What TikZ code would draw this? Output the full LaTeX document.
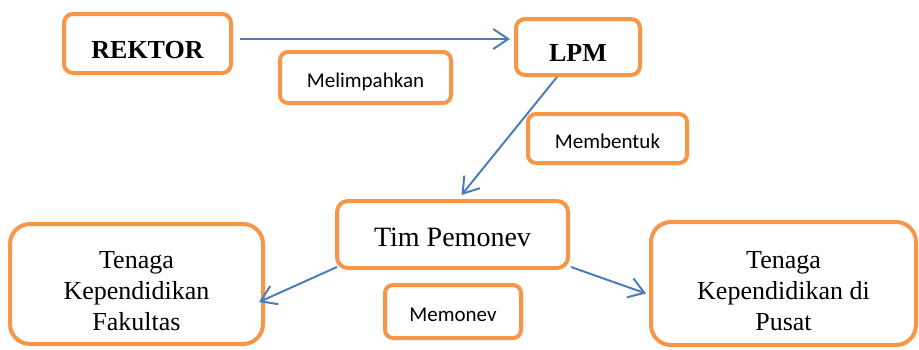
\documentclass[tikz,border=0pt]{standalone}
\usepackage{fontspec}
\setmainfont{Liberation Serif}
\newfontfamily\lblfont{Carlito}
\usetikzlibrary{arrows.meta,positioning}
\definecolor{boxorange}{HTML}{F79646}
\definecolor{arrowblue}{HTML}{4A7EBB}
\begin{document}
\begin{tikzpicture}[x=1pt,y=-1pt,
    box/.style={draw=boxorange, line width=4pt, rounded corners=9pt, fill=white, align=center},
    bigbox/.style={box, rounded corners=20pt, font=\fontsize{26}{31}\selectfont, text height=93pt, text depth=0pt},
    head/.style={box, font=\fontsize{26}{31}\selectfont\bfseries, text height=29pt, text depth=0pt},
    lbl/.style={box, rounded corners=8pt, font=\lblfont\fontsize{21}{25}\selectfont, text height=20pt, text depth=0pt},
    link/.style={draw=arrowblue, line width=2pt, -{Straight Barb[length=15pt,width=20pt]}}]
    \useasboundingbox (0,0) rectangle (919,349);
    \node[head, minimum width=167pt, minimum height=59pt] (REKTOR) at (147.5,43.5) {REKTOR};
    \node[head, minimum width=124pt, minimum height=56pt] (LPM) at (578,47) {LPM};
    \node[lbl, minimum width=171pt, minimum height=51pt] (melimpahkan) at (365.5,77.5) {Melimpahkan};
    \node[lbl, minimum width=159pt, minimum height=49pt] (membentuk) at (607.5,138.5) {Membentuk};
    \node[box, rounded corners=11pt, minimum width=231pt, minimum height=67pt, font=\fontsize{28}{34}\selectfont, text height=23.5pt, text depth=0pt] (tim) at (452.5,234.5) {Tim Pemonev};
    \node[lbl, minimum width=136pt, minimum height=53pt] (memonev) at (453,311.5) {Memonev};
    \node[bigbox, minimum width=253pt, minimum height=120pt] (fakultas) at (136.5,284) {Tenaga\\Kependidikan\\Fakultas};
    \node[bigbox, minimum width=265pt, minimum height=123pt] (pusat) at (783.5,283.5) {Tenaga\\Kependidikan di\\Pusat};
    \draw[link] ([shift={(7,-4.5)}]REKTOR.east) -- ([shift={(-4,-8)}]LPM.west);
    \draw[link] ([xshift=-21pt]LPM.south) -- ([shift={(9,-4)}]tim.north);
    \draw[link] ([shift={(2,-3)}]tim.south west) -- ([shift={(-6,18)}]fakultas.east);
    \draw[link] ([shift={(1,-3)}]tim.south east) -- ([shift={(-3,10)}]pusat.west);
\end{tikzpicture}
\end{document}
